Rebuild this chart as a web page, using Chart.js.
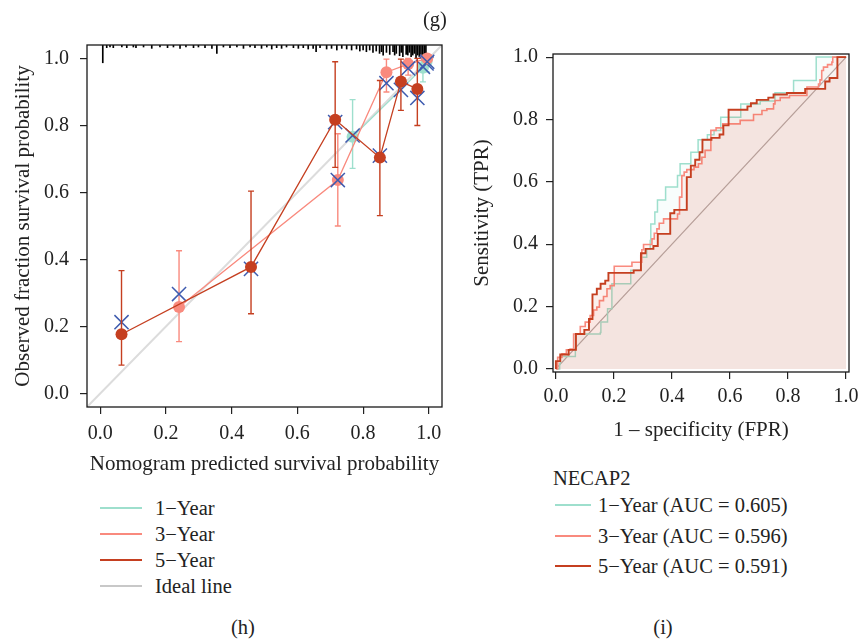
<!DOCTYPE html>
<html><head><meta charset="utf-8">
<script src="https://cdn.jsdelivr.net/npm/chart.js@4"></script>
<style>
body{margin:0;background:#fff;}
#wrap{position:relative;width:861px;height:639px;overflow:hidden;font-family:"Liberation Serif","Times New Roman",serif;color:#222;}
canvas{position:absolute;}
.t{position:absolute;white-space:nowrap;font-size:20.5px;line-height:24px;}
.ln{position:absolute;height:2px;}
</style></head><body>
<div id="wrap">
<canvas id="cal" width="460" height="450" style="left:0;top:30px;width:460px;height:450px"></canvas>
<canvas id="roc" width="401" height="420" style="left:460px;top:30px;width:401px;height:420px"></canvas>
</div>
<script>
// ---------- shared ----------
const axisTicks = [0, 0.2, 0.4, 0.6, 0.8, 1.0];
const calRange = [-0.04, 1.04];
const rocRange = [-0.01, 1.01];
const seriesNames = ['1\u2212Year', '3\u2212Year', '5\u2212Year'];
const seriesColors = ['#9EDFCD', '#F98A7E', '#C53F20'];
const idealName = 'Ideal line';
const markerName = 'NECAP2';
const aucValues = [0.605, 0.596, 0.591];
const panelLabels = ['(g)', '(h)', '(i)'];

// ---------- calibration (h) ----------
const cal1Pred = [0.768, 0.982, 0.993];
const cal1Obs  = [0.766, 0.972, 0.990];
const cal1Lo   = [0.672, 0.930, 0.960];
const cal1Hi   = [0.877, 1.000, 1.000];
const cal1Corr = [0.770, 0.975, 0.985];

const cal3Pred = [0.240, 0.723, 0.871, 0.937, 0.995];
const cal3Obs  = [0.258, 0.637, 0.959, 0.983, 1.000];
const cal3Lo   = [0.155, 0.500, 0.900, 0.950, 0.990];
const cal3Hi   = [0.426, 0.775, 0.998, 1.000, 1.000];
const cal3Corr = [0.297, 0.637, 0.926, 0.970, 0.990];

const cal5Pred = [0.065, 0.459, 0.715, 0.851, 0.915, 0.965];
const cal5Obs  = [0.177, 0.378, 0.817, 0.704, 0.931, 0.909];
const cal5Lo   = [0.085, 0.238, 0.675, 0.531, 0.845, 0.800];
const cal5Hi   = [0.367, 0.604, 0.990, 0.934, 0.998, 1.000];
const cal5Corr = [0.213, 0.372, 0.810, 0.710, 0.906, 0.882];

// rug of predicted probabilities (top margin)
const rugX = [0.008,0.020,0.030,0.040,0.066,0.081,0.101,0.109,0.132,0.157,0.182,0.205,0.223,0.243,0.261,0.284,0.299,0.319,0.340,0.355,0.375,0.395,0.416,0.436,0.456,0.471,0.491,0.507,0.522,0.537,0.552,0.567,0.588,0.603,0.618,0.633,0.648,0.657,0.669,0.689,0.704,0.720,0.735,0.750,0.765,0.780,0.790,0.800,0.810,0.820,0.830,0.840,0.850,0.856,0.861,0.871,0.881,0.891,0.896,0.901,0.911,0.916,0.921,0.931,0.936,0.941,0.946,0.951,0.956,0.961,0.966,0.971,0.976,0.981,0.986,0.991];
const rugLen = [0.053,0.008,0.006,0.008,0.006,0.008,0.006,0.008,0.006,0.010,0.006,0.008,0.006,0.010,0.006,0.008,0.006,0.008,0.010,0.025,0.006,0.008,0.006,0.010,0.006,0.008,0.010,0.006,0.012,0.008,0.010,0.006,0.008,0.010,0.008,0.012,0.010,0.020,0.008,0.012,0.010,0.015,0.010,0.012,0.015,0.012,0.018,0.015,0.020,0.015,0.022,0.018,0.025,0.020,0.030,0.022,0.028,0.020,0.030,0.025,0.032,0.022,0.035,0.028,0.030,0.022,0.035,0.030,0.025,0.040,0.030,0.035,0.028,0.032,0.040,0.030];

// ---------- ROC (i) ----------
const roc1Fpr = [0,0.013,0.015,0.067,0.067,0.153,0.155,0.178,0.193,0.258,0.293,0.313,0.325,0.327,0.341,0.350,0.378,0.419,0.428,0.465,0.490,0.522,0.545,0.568,0.637,0.704,0.755,0.819,0.897,1];
const roc1Tpr = [0,0.016,0.040,0.064,0.112,0.117,0.150,0.193,0.273,0.316,0.358,0.385,0.412,0.465,0.503,0.542,0.583,0.620,0.658,0.695,0.735,0.751,0.765,0.807,0.850,0.859,0.886,0.925,1,1];

const roc3Fpr = [0,0.006,0.021,0.036,0.049,0.061,0.084,0.101,0.118,0.130,0.141,0.150,0.164,0.176,0.187,0.201,0.262,0.296,0.302,0.331,0.339,0.348,0.356,0.371,0.419,0.426,0.434,0.442,0.451,0.476,0.491,0.503,0.514,0.534,0.552,0.575,0.635,0.681,0.710,0.727,0.750,0.755,0.773,0.805,0.865,0.905,0.910,0.916,0.922,0.936,0.951,0.954,1];
const roc3Tpr = [0,0.037,0.048,0.061,0.064,0.112,0.136,0.150,0.171,0.189,0.198,0.219,0.232,0.257,0.267,0.329,0.342,0.382,0.399,0.417,0.435,0.449,0.467,0.481,0.497,0.551,0.620,0.631,0.639,0.647,0.658,0.679,0.701,0.765,0.773,0.786,0.797,0.816,0.829,0.834,0.850,0.861,0.870,0.877,0.904,0.914,0.927,0.957,0.968,0.976,0.984,1,1];

const roc5Fpr = [0,0,0.015,0.044,0.069,0.098,0.114,0.126,0.141,0.154,0.170,0.181,0.268,0.293,0.309,0.336,0.351,0.394,0.408,0.451,0.465,0.480,0.495,0.505,0.536,0.564,0.577,0.595,0.660,0.672,0.692,0.732,0.750,0.796,0.859,0.928,0.943,0.970,1];
const roc5Tpr = [0,0.025,0.046,0.061,0.112,0.125,0.160,0.239,0.257,0.273,0.283,0.308,0.316,0.371,0.385,0.394,0.433,0.499,0.510,0.615,0.652,0.671,0.695,0.735,0.741,0.752,0.781,0.831,0.842,0.852,0.863,0.870,0.880,0.885,0.898,0.922,0.933,1,1];

// ---------- styling ----------
const FONT = '"Liberation Serif","Times New Roman",serif';
const INK = '#222222';
const CROSS = '#3E5BAF';
const IDEAL = '#DCDCDC';
const DIAG = '#AFA5A4';

const pts = (xs, ys) => xs.map((x, i) => ({x, y: ys[i]}));

const errorBarPlugin = {
  id: 'errbars',
  beforeDatasetDraw(chart, args) {
    const ds = chart.data.datasets[args.index];
    if (!ds.errLo) return;
    const {ctx, scales: {x, y}} = chart;
    ctx.save();
    ctx.strokeStyle = ds.borderColor;
    ctx.lineWidth = 1.4;
    ds.data.forEach((p, i) => {
      const px = x.getPixelForValue(p.x);
      const y1 = y.getPixelForValue(ds.errLo[i]);
      const y2 = y.getPixelForValue(ds.errHi[i]);
      ctx.beginPath();
      ctx.moveTo(px, y1); ctx.lineTo(px, y2);
      ctx.moveTo(px - 3, y1); ctx.lineTo(px + 3, y1);
      ctx.moveTo(px - 3, y2); ctx.lineTo(px + 3, y2);
      ctx.stroke();
    });
    ctx.restore();
  }
};
const boxPlugin = {
  id: 'box',
  afterDatasetsDraw(chart) {
    const {ctx, chartArea: a} = chart;
    ctx.save();
    ctx.strokeStyle = '#1a1a1a';
    ctx.lineWidth = 1.3;
    ctx.strokeRect(a.left, a.top, a.right - a.left, a.bottom - a.top);
    ctx.restore();
  }
};

function axis(range, title, o) {
  return {
    type: 'linear', min: range[0], max: range[1], offset: false, beginAtZero: false,
    afterBuildTicks: s => { s.ticks = axisTicks.map(v => ({value: v})); },
    afterFit: s => { o.fit(s); s.paddingTop = 0; s.paddingBottom = 0; s.paddingLeft = 0; s.paddingRight = 0; },
    grid: {display: true, drawOnChartArea: false, drawTicks: true, tickLength: 7, color: INK, lineWidth: 1.2, offset: false},
    border: {display: false},
    ticks: {color: INK, padding: o.pad, maxRotation: 0, autoSkip: false,
      font: {family: FONT, size: 20, lineHeight: 1.2}, callback: v => Number(v).toFixed(1)},
    title: {display: true, text: title, color: INK, font: {family: FONT, size: 21, lineHeight: 1.2}, padding: o.tpad}
  };
}

function calSeries(pred, obs, lo, hi, corr, color, ord) {
  return [
    {type: 'line', data: pts(pred, obs), errLo: lo, errHi: hi, borderColor: color, backgroundColor: color,
     borderWidth: 1.3, showLine: true, pointRadius: 6, pointBorderWidth: 0, pointBackgroundColor: color,
     fill: false, order: ord, clip: false},
    {type: 'scatter', data: pts(pred, corr), showLine: false, pointStyle: 'crossRot', pointRadius: 10,
     borderColor: CROSS, backgroundColor: CROSS, pointBorderWidth: 1.5, order: ord - 1, clip: false}
  ];
}

// order: higher drawn first (below)
const calDatasets = [
  {type: 'bar', data: rugX.map((x, i) => ({x, y: [calRange[1] - rugLen[i], calRange[1]]})),
   backgroundColor: '#000', barThickness: 1, borderWidth: 0, order: 200},
  {type: 'line', data: pts(calRange, calRange), borderColor: IDEAL, borderWidth: 2, pointRadius: 0,
   showLine: true, fill: false, order: 100},
  ...calSeries(cal1Pred, cal1Obs, cal1Lo, cal1Hi, cal1Corr, seriesColors[0], 90),
  ...calSeries(cal3Pred, cal3Obs, cal3Lo, cal3Hi, cal3Corr, seriesColors[1], 80),
];
calDatasets.push(
  {type: 'scatter', data: pts(cal5Pred, cal5Corr), showLine: false, pointStyle: 'crossRot', pointRadius: 10,
   borderColor: CROSS, backgroundColor: CROSS, pointBorderWidth: 1.5, order: 72, clip: false},
  {type: 'line', data: pts(cal5Pred, cal5Obs), errLo: cal5Lo, errHi: cal5Hi, borderColor: seriesColors[2],
   backgroundColor: seriesColors[2], borderWidth: 1.3, showLine: true, pointRadius: 6, pointBorderWidth: 0,
   pointBackgroundColor: seriesColors[2], fill: false, order: 70, clip: false}
);

new Chart(document.getElementById('cal'), {
  type: 'scatter',
  data: {datasets: calDatasets},
  options: {
    responsive: false, animation: false, devicePixelRatio: 1, events: [],
    layout: {padding: {top: 15, right: 18, left: 0, bottom: 0}},
    plugins: {legend: {display: false}, tooltip: {enabled: false}},
    scales: {
      x: axis(calRange, 'Nomogram predicted survival probability', {pad: 8, tpad: {top: 0, bottom: 3}, fit: s => { s.height = 73; }}),
      y: axis(calRange, 'Observed fraction survival probability', {pad: 11, tpad: {top: 11, bottom: 0}, fit: s => { s.width = 87; }})
    }
  },
  plugins: [errorBarPlugin, boxPlugin]
});

// ---------- ROC ----------
const rocFills = ['rgba(160,227,211,0.08)', 'rgba(250,128,114,0.08)', 'rgba(200,64,31,0.08)'];
const rocWidths = [1.5, 1.6, 1.9];
const rocSets = [[roc1Fpr, roc1Tpr], [roc3Fpr, roc3Tpr], [roc5Fpr, roc5Tpr]];
const rocDatasets = [
  {type: 'line', data: pts([0, 1], [0, 1]), borderColor: DIAG, borderWidth: 1.3, pointRadius: 0,
   showLine: true, fill: false, order: 100}
];
rocSets.forEach(([f, t], i) => {
  rocDatasets.push({type: 'line', data: pts(f, t), stepped: 'before', borderColor: seriesColors[i],
    backgroundColor: rocFills[i], fill: 'origin', borderWidth: rocWidths[i], pointRadius: 0,
    showLine: true, order: 90 - i * 10});
});

new Chart(document.getElementById('roc'), {
  type: 'scatter',
  data: {datasets: rocDatasets},
  options: {
    responsive: false, animation: false, devicePixelRatio: 1, events: [],
    layout: {padding: {top: 24, right: 12, left: 0, bottom: 0}},
    plugins: {legend: {display: false}, tooltip: {enabled: false}, filler: {propagate: false}},
    scales: {
      x: axis(rocRange, '1 \u2013 specificity (FPR)', {pad: 6, tpad: {top: 0, bottom: 7}, fit: s => { s.height = 78; }}),
      y: axis(rocRange, 'Sensitivity (TPR)', {pad: 8, tpad: {top: 10, bottom: 0}, fit: s => { s.width = 93; }})
    }
  },
  plugins: [boxPlugin]
});

// ---------- HTML legends & panel labels ----------
const wrap = document.getElementById('wrap');
function addText(txt, x, cy, center) {
  const d = document.createElement('div');
  d.className = 't';
  d.textContent = txt;
  d.style.top = (cy - 12) + 'px';
  if (center) { d.style.left = (x - 100) + 'px'; d.style.width = '200px'; d.style.textAlign = 'center'; }
  else d.style.left = x + 'px';
  wrap.appendChild(d);
}
function addLine(x1, x2, y, color) {
  const d = document.createElement('div');
  d.className = 'ln';
  d.style.left = x1 + 'px'; d.style.width = (x2 - x1) + 'px'; d.style.top = Math.round(y - 1) + 'px';
  d.style.background = color;
  wrap.appendChild(d);
}
const leftLegendNames = [...seriesNames, idealName];
const leftLegendColors = [...seriesColors, '#C8C8C8'];
leftLegendNames.forEach((n, i) => {
  const cy = 508 + i * 26;
  addLine(100, 142, cy, leftLegendColors[i]);
  addText(n, 155, cy, false);
});
addText(markerName, 553, 478, false);
seriesNames.forEach((n, i) => {
  const cy = 505 + i * 30.5;
  addLine(555, 591, cy, seriesColors[i]);
  addText(n + ' (AUC = ' + aucValues[i].toFixed(3) + ')', 598, cy, false);
});
addText(panelLabels[0], 435, 19, true);
addText(panelLabels[1], 243, 627, true);
addText(panelLabels[2], 663, 627, true);
</script>
</body></html>
